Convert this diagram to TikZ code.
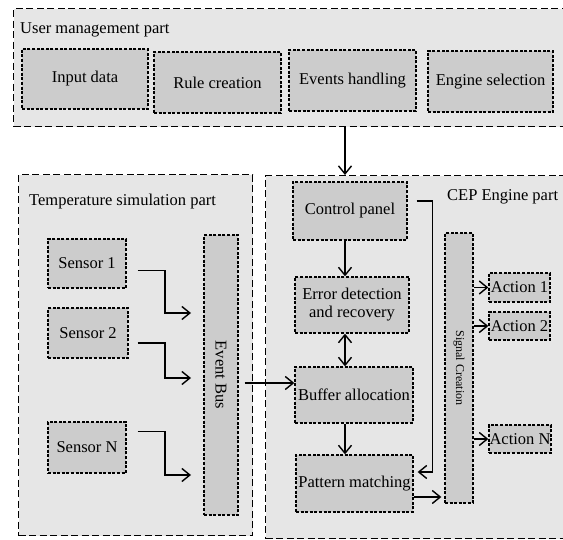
\documentclass[tikz,border=0pt]{standalone}
\usepackage{fontspec}
\setmainfont{Liberation Serif}
\usepackage{tikz}
\usetikzlibrary{calc, arrows.meta}

\definecolor{partgray}{HTML}{E6E6E6}
\definecolor{boxgray}{HTML}{CCCCCC}

\begin{document}
\begin{tikzpicture}[x = 1pt, y = -1pt,
		font = \fontsize{16.5}{18}\selectfont,
		>={Straight Barb[length = 8pt, width = 13pt, line width = 1.4pt]},
		part/.style = {draw, fill = partgray, line width = 1.4pt, dash pattern = on 7pt off 3.5pt, inner sep = 0, anchor = north west},
		blk/.style = {draw, fill = boxgray, line width = 1.3pt, dash pattern = on 3pt off 1.6pt, inner sep = 0, align = center},
		lbl/.style = {inner sep = 0, anchor = west},
		arr/.style = {line width = 1.4pt, ->}]
			\useasboundingbox (0,0) rectangle (563,540);

			\node [part, minimum width = 565, minimum height = 118] (user) at (13,8) {};
			\node [part, minimum width = 234, minimum height = 361] (temp) at (18,174) {};
			\node [part, minimum width = 310, minimum height = 363] (cep) at (265,175) {};

			\node [lbl] (userlbl) at ([shift = {(7,22)}]user.north west) {User management part};
			\node [lbl] (templbl) at ([shift = {(11,28)}]temp.north west) {Temperature simulation part};
			\node [lbl] (ceplbl) at (447,197) {CEP Engine part};

			\node [blk, minimum width = 126, minimum height = 60] (input) at (85,79) {Input data};
			\node [blk, minimum width = 127, minimum height = 61] (rule) at (217.5,82.5) {Rule creation};
			\node [blk, minimum width = 127, minimum height = 61] (events) at (352.5,80.5) {Events handling};
			\node [blk, minimum width = 125, minimum height = 61] (engine) at (490.5,81.5) {Engine selection};

			\node [blk, minimum width = 78, minimum height = 49] (s1) at (87,263.5) {Sensor 1};
			\node [blk, minimum width = 80, minimum height = 50] (s2) at (88,333) {Sensor 2};
			\node [blk, minimum width = 78, minimum height = 51] (sn) at (87,447.5) {Sensor N};
			\node [blk, minimum width = 34, minimum height = 280] (bus) at (221,375) {};
			\node [rotate = -90] (buslbl) at (bus) {Event Bus};

			\node [blk, minimum width = 114, minimum height = 58] (ctrl) at (350,211) {Control panel};
			\node [blk, minimum width = 114, minimum height = 56] (err) at (352,305) {Error detection\\and recovery};
			\node [blk, minimum width = 118, minimum height = 56] (buf) at (354,395) {Buffer allocation};
			\node [blk, minimum width = 117, minimum height = 57] (pat) at (354.5,483.5) {Pattern matching};
			\node [blk, minimum width = 28, minimum height = 270] (sig) at (459,368) {};
			\node [rotate = -90, font = \fontsize{12}{14}\selectfont] (siglbl) at (sig) {Signal Creation};

			\node [blk, minimum width = 61, minimum height = 29] (act1) at (519.5,287.5) {Action 1};
			\node [blk, minimum width = 61, minimum height = 28] (act2) at (519.5,326) {Action 2};
			\node [blk, minimum width = 62, minimum height = 28] (actn) at (520,439) {Action N};

			\coordinate (in1) at (191,313);
			\coordinate (in2) at (191,378);
			\coordinate (inn) at (191,475);

			\begin{scope}[arr]
				\draw (user.south -| 345,0) -- (cep.north -| 345,0);
				\draw ([shift = {(11,7)}]s1.east) -| ($(in1)+(-26,0)$) -- (in1);
				\draw ([shift = {(9,10)}]s2.east) -| ($(in2)+(-26,0)$) -- (in2);
				\draw ([shift = {(11,-16)}]sn.east) -| ($(inn)+(-26,0)$) -- (inn);
				\draw ([shift = {(6,8)}]bus.east) coordinate (bo) -- (bo -| buf.west);
				\draw (ctrl.south -| 345,0) -- (err.north -| 345,0);
				\draw [<->] (err.south -| 345,0) -- (buf.north -| 345,0);
				\draw (buf.south -| 345,0) -- (pat.north -| 345,0);
				\draw ([shift = {(9,-10)}]ctrl.east) -- ++(16,0) |- ([shift = {(4,-11.5)}]pat.east);
				\draw ([yshift = -13.5]pat.east) -- ([xshift = -3]sig.west |- 0,497);
				\draw (sig.east |- act1.west) -- (act1.west);
				\draw (sig.east |- act2.west) -- (act2.west);
				\draw (sig.east |- actn.west) -- (actn.west);
			\end{scope}
		\end{tikzpicture}
\end{document}
